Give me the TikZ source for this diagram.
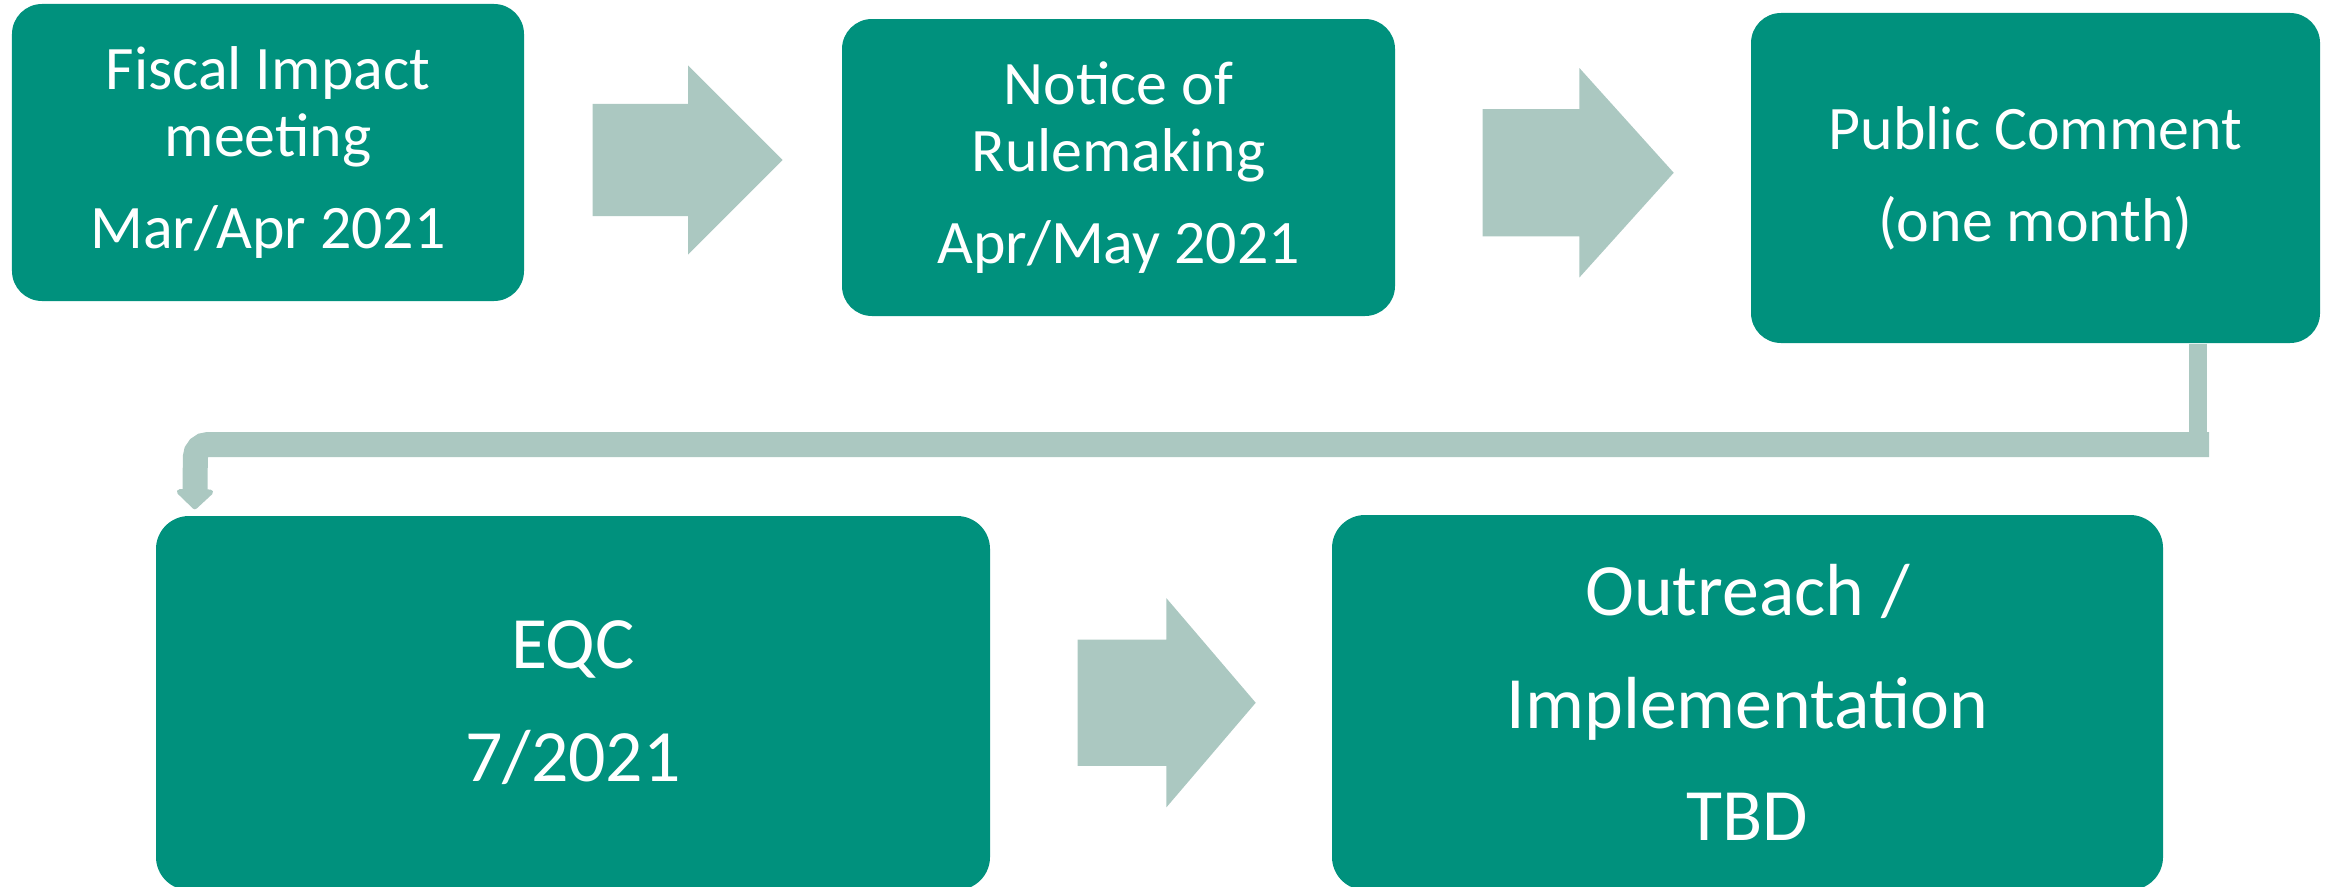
\documentclass[tikz,border=0pt]{standalone}
\usepackage{fontspec}
\setmainfont{Carlito}
\usetikzlibrary{shapes.arrows,arrows.meta,calc}
\definecolor{stepteal}{RGB}{0,145,125}
\definecolor{flowgrey}{RGB}{171,200,193}

\begin{document}
\begin{tikzpicture}[
  stage/.style={fill=stepteal, text=white, rounded corners=0.3cm, align=center, inner sep=0pt},
  topstage/.style={stage, font=\fontsize{17.6}{19.06}\selectfont},
  lowstage/.style={stage, font=\fontsize{21}{32.1}\selectfont},
  flow/.style={single arrow, fill=flowgrey, inner xsep=0pt, minimum width=0pt, anchor=tail},
  elbow/.style={draw=flowgrey, line width=0.25cm, rounded corners=0.125cm}
]
\useasboundingbox (0,0) rectangle (23.36,-8.86);
% top row
\node [topstage, minimum width=5.12cm, minimum height=2.97cm] (fiscal) at (2.68,-1.525) {Fiscal Impact\\meeting\\[7.1pt]Mar/Apr 2021};
\node [topstage, minimum width=5.53cm, minimum height=2.97cm] (notice) at (11.185,-1.675) {Notice of\\Rulemaking\\[7.1pt]Apr/May 2021};
\node [stage, font=\fontsize{17.6}{26.2}\selectfont, minimum width=5.69cm, minimum height=3.30cm] (comment) at (20.355,-1.78) {Public Comment\\(one month)};
% bottom row
\node [lowstage, rounded corners=0.33cm, minimum width=8.34cm, minimum height=3.74cm] (eqc) at (5.73,-7.03) {EQC\\7/2021};
\node [lowstage, rounded corners=0.33cm, minimum width=8.31cm, minimum height=3.75cm] (outreach) at (17.475,-7.025) {Outreach /\\Implementation\\TBD};
% block arrows
\node [flow, inner ysep=0.555cm, single arrow head extend=0.385cm, single arrow tip angle=90, minimum height=1.90cm] (go1) at ($(fiscal.east)!0.5!(notice.west)+(-0.91,0)$) {};
\node [flow, inner ysep=0.63cm, single arrow head extend=0.41cm, single arrow tip angle=96, minimum height=1.91cm] (go2) at ($(notice.east)!0.5!(comment.west)+(-0.91,0)$) {};
\node [flow, inner ysep=0.625cm, single arrow head extend=0.415cm, single arrow tip angle=99, minimum height=1.78cm] (go3) at ($(eqc.east)!0.5!(outreach.west)+(-0.84,0)$) {};
% elbow down to EQC
\draw [draw=flowgrey, line width=0.18cm] ([xshift=1.625cm]comment.south) -- ++(0,-1.0);
\draw [elbow, -{Triangle[width=0.43cm,length=0.21cm,round]}] ([xshift=1.735cm]comment.south |- 0,-4.445) -- (1.955,-4.445) -- ([xshift=0.395cm,yshift=0.06cm]eqc.north west);
\end{tikzpicture}
\end{document}
